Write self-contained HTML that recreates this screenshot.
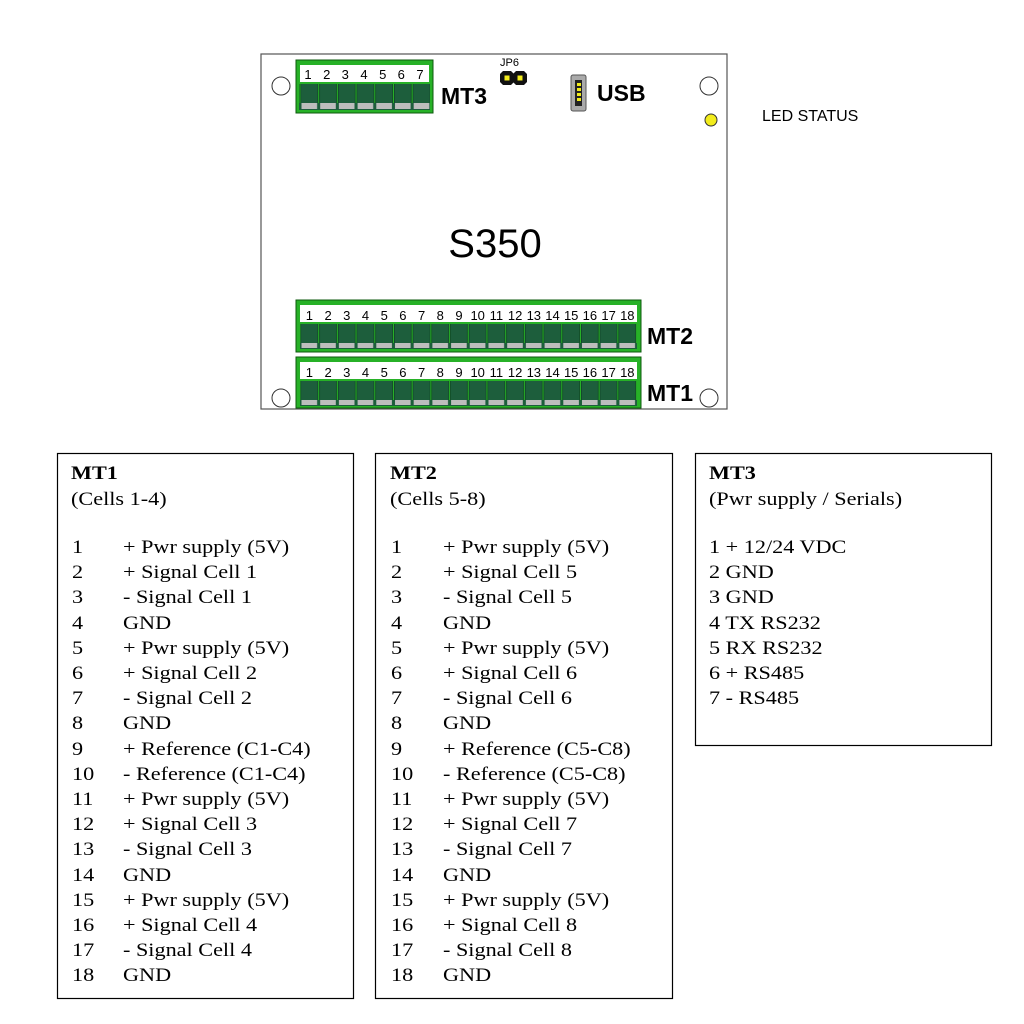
<!DOCTYPE html>
<html><head><meta charset="utf-8"><style>
html,body{margin:0;padding:0;background:#fff;}
svg{display:block;}
.n{font-family:"Liberation Sans",Arial,sans-serif;font-size:13px;fill:#000;text-anchor:middle;}
.b{font-family:"Liberation Sans",Arial,sans-serif;font-weight:bold;fill:#000;}
.t{font-family:"Liberation Serif","Times New Roman",serif;font-size:19.5px;fill:#000;}
</style></head><body>
<svg width="1024" height="1024" viewBox="0 0 1024 1024" xmlns="http://www.w3.org/2000/svg">
<defs>
<pattern id="p18" x="300" y="0" width="18.7" height="1024" patternUnits="userSpaceOnUse">
<rect x="0.8" y="0" width="17" height="1024" fill="#1d5e3c" stroke="#0c3a20" stroke-width="0.6"/>
</pattern>
<pattern id="g18" x="300" y="0" width="18.7" height="1024" patternUnits="userSpaceOnUse">
<rect x="1.5" y="0" width="15.6" height="1024" fill="#bdbdbd"/>
</pattern>
</defs>
<rect x="261" y="54" width="466" height="355" fill="#fff" stroke="#555" stroke-width="1.2"/>
<circle cx="281" cy="86" r="9" fill="#fff" stroke="#333"/>
<circle cx="709" cy="86" r="9" fill="#fff" stroke="#333"/>
<circle cx="709" cy="398" r="9" fill="#fff" stroke="#333"/>
<circle cx="281" cy="398" r="9" fill="#fff" stroke="#333"/>
<circle cx="711" cy="120" r="6" fill="#f2ec1c" stroke="#333"/>
<text x="762" y="121" font-family="Liberation Sans,Arial,sans-serif" font-size="16">LED STATUS</text>

<!-- MT3 -->
<rect x="296" y="60" width="137" height="53" fill="#27b127" stroke="#0c5a0c"/>
<rect x="300" y="65" width="129" height="17" fill="#fff"/>
<rect x="299" y="84" width="131" height="19" fill="url(#p18)"/>
<rect x="299" y="103" width="131" height="7" fill="#1d5e3c"/>
<rect x="299" y="103" width="131" height="6" fill="url(#g18)"/>
<text class="n" y="79"><tspan x="308">1</tspan><tspan x="326.7">2</tspan><tspan x="345.3">3</tspan><tspan x="364">4</tspan><tspan x="382.7">5</tspan><tspan x="401.3">6</tspan><tspan x="420">7</tspan></text>
<text class="b" x="441" y="104" font-size="23">MT3</text>

<!-- JP6 -->
<text x="500" y="66" font-family="Liberation Sans,Arial,sans-serif" font-size="11">JP6</text>
<polygon points="503,71 511,71 514,74 514,82 511,85 503,85 500,82 500,74" fill="#111"/>
<polygon points="516,71 524,71 527,74 527,82 524,85 516,85 513,82 513,74" fill="#111"/>
<rect x="504.5" y="75.5" width="5" height="5" fill="#f2ec1c"/>
<rect x="517.5" y="75.5" width="5" height="5" fill="#f2ec1c"/>

<!-- USB -->
<rect x="571" y="75" width="15" height="36" rx="2" fill="#aaa" stroke="#555"/>
<rect x="575" y="80" width="7" height="26" fill="#222"/>
<rect x="577" y="83" width="4" height="3" fill="#f2ec1c"/><rect x="577" y="88" width="4" height="3" fill="#f2ec1c"/><rect x="577" y="93" width="4" height="3" fill="#f2ec1c"/><rect x="577" y="98" width="4" height="3" fill="#f2ec1c"/>
<text class="b" x="597" y="101" font-size="23">USB</text>

<text x="495" y="257" text-anchor="middle" font-family="Liberation Sans,Arial,sans-serif" font-size="40">S350</text>

<!-- MT2 -->
<rect x="296" y="300" width="345" height="52" fill="#27b127" stroke="#0c5a0c"/>
<rect x="300" y="305" width="337" height="17" fill="#fff"/>
<rect x="300" y="324" width="337" height="19" fill="url(#p18)"/>
<rect x="300" y="343" width="337" height="6" fill="#1d5e3c"/>
<rect x="300" y="343" width="337" height="5" fill="url(#g18)"/>
<text class="n" y="320"><tspan x="309.4">1</tspan><tspan x="328.1">2</tspan><tspan x="346.8">3</tspan><tspan x="365.5">4</tspan><tspan x="384.2">5</tspan><tspan x="402.9">6</tspan><tspan x="421.6">7</tspan><tspan x="440.3">8</tspan><tspan x="459">9</tspan><tspan x="477.7">10</tspan><tspan x="496.4">11</tspan><tspan x="515.1">12</tspan><tspan x="533.8">13</tspan><tspan x="552.5">14</tspan><tspan x="571.2">15</tspan><tspan x="589.9">16</tspan><tspan x="608.6">17</tspan><tspan x="627.3">18</tspan></text>
<text class="b" x="647" y="344" font-size="23">MT2</text>

<!-- MT1 -->
<rect x="296" y="357" width="345" height="51" fill="#27b127" stroke="#0c5a0c"/>
<rect x="300" y="362" width="337" height="17" fill="#fff"/>
<rect x="300" y="381" width="337" height="19" fill="url(#p18)"/>
<rect x="300" y="400" width="337" height="6" fill="#1d5e3c"/>
<rect x="300" y="400" width="337" height="5" fill="url(#g18)"/>
<text class="n" y="377"><tspan x="309.4">1</tspan><tspan x="328.1">2</tspan><tspan x="346.8">3</tspan><tspan x="365.5">4</tspan><tspan x="384.2">5</tspan><tspan x="402.9">6</tspan><tspan x="421.6">7</tspan><tspan x="440.3">8</tspan><tspan x="459">9</tspan><tspan x="477.7">10</tspan><tspan x="496.4">11</tspan><tspan x="515.1">12</tspan><tspan x="533.8">13</tspan><tspan x="552.5">14</tspan><tspan x="571.2">15</tspan><tspan x="589.9">16</tspan><tspan x="608.6">17</tspan><tspan x="627.3">18</tspan></text>
<text class="b" x="647" y="401" font-size="23">MT1</text>

<!-- Tables -->
<rect x="57.5" y="453.5" width="296" height="545" fill="none" stroke="#000" stroke-width="1.2"/>
<rect x="375.5" y="453.5" width="297" height="545" fill="none" stroke="#000" stroke-width="1.2"/>
<rect x="695.5" y="453.5" width="296" height="292" fill="none" stroke="#000" stroke-width="1.2"/>

<g transform="translate(71,0) scale(1.14,1)">
<text class="t" x="0" y="479" font-weight="bold">MT1</text>
<text class="t" x="0" y="505">(Cells 1-4)</text>
</g>
<g transform="translate(72,0) scale(1.14,1)">
<text class="t" x="0" y="553">1</text><text class="t" x="0" y="578">2</text><text class="t" x="0" y="603">3</text><text class="t" x="0" y="629">4</text><text class="t" x="0" y="654">5</text><text class="t" x="0" y="679">6</text><text class="t" x="0" y="704">7</text><text class="t" x="0" y="729">8</text><text class="t" x="0" y="755">9</text><text class="t" x="0" y="780">10</text><text class="t" x="0" y="805">11</text><text class="t" x="0" y="830">12</text><text class="t" x="0" y="855">13</text><text class="t" x="0" y="881">14</text><text class="t" x="0" y="906">15</text><text class="t" x="0" y="931">16</text><text class="t" x="0" y="956">17</text><text class="t" x="0" y="981">18</text>
</g>
<g transform="translate(123,0) scale(1.14,1)">
<text class="t" x="0" y="553">+ Pwr supply (5V)</text>
<text class="t" x="0" y="578">+ Signal Cell 1</text>
<text class="t" x="0" y="603">- Signal Cell 1</text>
<text class="t" x="0" y="629">GND</text>
<text class="t" x="0" y="654">+ Pwr supply (5V)</text>
<text class="t" x="0" y="679">+ Signal Cell 2</text>
<text class="t" x="0" y="704">- Signal Cell 2</text>
<text class="t" x="0" y="729">GND</text>
<text class="t" x="0" y="755">+ Reference (C1-C4)</text>
<text class="t" x="0" y="780">- Reference (C1-C4)</text>
<text class="t" x="0" y="805">+ Pwr supply (5V)</text>
<text class="t" x="0" y="830">+ Signal Cell 3</text>
<text class="t" x="0" y="855">- Signal Cell 3</text>
<text class="t" x="0" y="881">GND</text>
<text class="t" x="0" y="906">+ Pwr supply (5V)</text>
<text class="t" x="0" y="931">+ Signal Cell 4</text>
<text class="t" x="0" y="956">- Signal Cell 4</text>
<text class="t" x="0" y="981">GND</text>
</g>

<g transform="translate(390,0) scale(1.14,1)">
<text class="t" x="0" y="479" font-weight="bold">MT2</text>
<text class="t" x="0" y="505">(Cells 5-8)</text>
</g>
<g transform="translate(391,0) scale(1.14,1)">
<text class="t" x="0" y="553">1</text><text class="t" x="0" y="578">2</text><text class="t" x="0" y="603">3</text><text class="t" x="0" y="629">4</text><text class="t" x="0" y="654">5</text><text class="t" x="0" y="679">6</text><text class="t" x="0" y="704">7</text><text class="t" x="0" y="729">8</text><text class="t" x="0" y="755">9</text><text class="t" x="0" y="780">10</text><text class="t" x="0" y="805">11</text><text class="t" x="0" y="830">12</text><text class="t" x="0" y="855">13</text><text class="t" x="0" y="881">14</text><text class="t" x="0" y="906">15</text><text class="t" x="0" y="931">16</text><text class="t" x="0" y="956">17</text><text class="t" x="0" y="981">18</text>
</g>
<g transform="translate(443,0) scale(1.14,1)">
<text class="t" x="0" y="553">+ Pwr supply (5V)</text>
<text class="t" x="0" y="578">+ Signal Cell 5</text>
<text class="t" x="0" y="603">- Signal Cell 5</text>
<text class="t" x="0" y="629">GND</text>
<text class="t" x="0" y="654">+ Pwr supply (5V)</text>
<text class="t" x="0" y="679">+ Signal Cell 6</text>
<text class="t" x="0" y="704">- Signal Cell 6</text>
<text class="t" x="0" y="729">GND</text>
<text class="t" x="0" y="755">+ Reference (C5-C8)</text>
<text class="t" x="0" y="780">- Reference (C5-C8)</text>
<text class="t" x="0" y="805">+ Pwr supply (5V)</text>
<text class="t" x="0" y="830">+ Signal Cell 7</text>
<text class="t" x="0" y="855">- Signal Cell 7</text>
<text class="t" x="0" y="881">GND</text>
<text class="t" x="0" y="906">+ Pwr supply (5V)</text>
<text class="t" x="0" y="931">+ Signal Cell 8</text>
<text class="t" x="0" y="956">- Signal Cell 8</text>
<text class="t" x="0" y="981">GND</text>
</g>

<g transform="translate(709,0) scale(1.14,1)">
<text class="t" x="0" y="479" font-weight="bold">MT3</text>
<text class="t" x="0" y="505">(Pwr supply / Serials)</text>
<text class="t" x="0" y="553">1 + 12/24 VDC</text>
<text class="t" x="0" y="578">2 GND</text>
<text class="t" x="0" y="603">3 GND</text>
<text class="t" x="0" y="629">4 TX RS232</text>
<text class="t" x="0" y="654">5 RX RS232</text>
<text class="t" x="0" y="679">6 + RS485</text>
<text class="t" x="0" y="704">7 - RS485</text>
</g>
</svg>
</body></html>
